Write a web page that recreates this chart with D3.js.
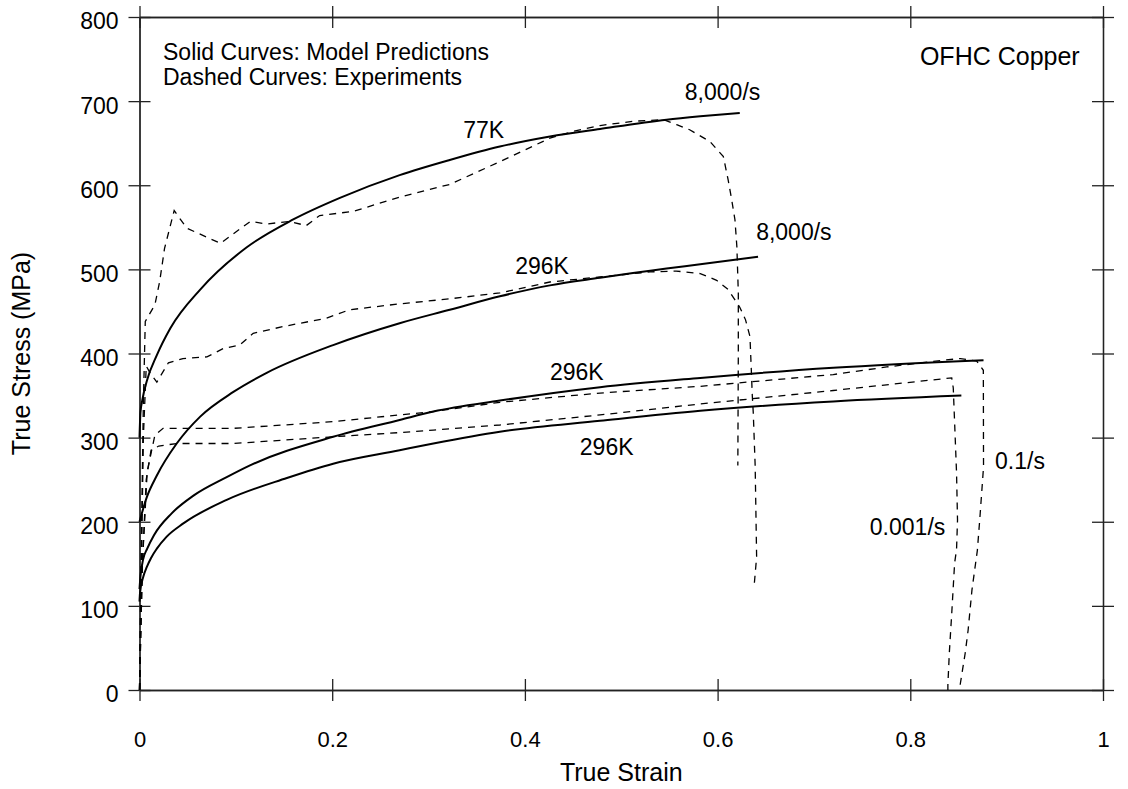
<!DOCTYPE html>
<html>
<head>
<meta charset="utf-8">
<script src="https://cdn.jsdelivr.net/npm/d3@7"></script>
<style>
  html, body { margin: 0; padding: 0; background: #fff; }
  svg { display: block; }
  text { font-family: "Liberation Sans", Arial, Helvetica, sans-serif; fill: #000; }
</style>
</head>
<body>
<svg id="chart" width="1128" height="789"></svg>
<script>
// ---- Data (strain, stress MPa) ----
const xTicks = [0, 0.2, 0.4, 0.6, 0.8, 1];
const xTickLabels = ["0", "0.2", "0.4", "0.6", "0.8", "1"];
const yTicks = [0, 100, 200, 300, 400, 500, 600, 700, 800];
const yTickLabels = ["0", "100", "200", "300", "400", "500", "600", "700", "800"];

// Solid curves: model predictions
const model77K_8000 = [[0,300],[0.001,330],[0.003,345],[0.0075,367],[0.018,398],[0.032,430],[0.063,476],[0.111,526],[0.159,559],[0.208,585],[0.27,612],[0.322,630],[0.374,646],[0.426,658],[0.478,667],[0.547,678],[0.582,682],[0.623,686]];
const model296K_8000 = [[0,200],[0.0075,229],[0.018,255],[0.0386,293],[0.063,325],[0.097,354],[0.132,377],[0.201,410],[0.27,436],[0.322,452],[0.374,468],[0.426,481],[0.478,490],[0.547,501],[0.582,506],[0.642,515]];
const model296K_01 = [[0,120],[0.001,135],[0.0037,155],[0.008,168],[0.015,184],[0.0334,210],[0.056,231],[0.0905,253],[0.1147,267],[0.201,301],[0.27,321],[0.305,331],[0.374,344],[0.478,360],[0.582,371],[0.72,383],[0.876,392]];
const model296K_0001 = [[0,105],[0.0005,115],[0.004,135],[0.0075,146],[0.012,157],[0.018,168],[0.028,182],[0.0455,198],[0.0905,226],[0.153,252],[0.201,269],[0.27,285],[0.305,293],[0.374,307],[0.478,320],[0.582,332],[0.72,343],[0.853,350]];

// Dashed curves: experiments
const exp77K_8000 = [[0,0],[0.002,180],[0.004,340],[0.006,438],[0.016,458],[0.021,486],[0.026,525],[0.036,570],[0.049,549],[0.084,531],[0.115,557],[0.132,554],[0.156,557],[0.173,552],[0.187,564],[0.222,569],[0.27,586],[0.322,601],[0.374,628],[0.426,656],[0.45,664],[0.478,671],[0.512,676],[0.544,678],[0.5575,672],[0.571,666],[0.592,652],[0.606,634],[0.611,606],[0.6146,583],[0.618,559],[0.62,527],[0.6215,472],[0.6215,400],[0.621,267]];
const exp296K_8000 = [[0,0],[0.002,150],[0.004,300],[0.007,385],[0.012,375],[0.018,366],[0.03,389],[0.045,394],[0.07,396],[0.087,406],[0.104,410],[0.118,424],[0.149,432],[0.194,442],[0.218,452],[0.27,459],[0.322,465],[0.374,472],[0.426,485],[0.478,491],[0.53,497],[0.557,498],[0.582,495],[0.599,487],[0.611,476],[0.623,455],[0.629,440],[0.6336,420],[0.635,380],[0.636,350],[0.637,330],[0.639,266],[0.6405,158],[0.638,125]];
const exp296K_01 = [[0,0],[0.003,150],[0.008,260],[0.016,303],[0.0245,311],[0.097,311],[0.201,319],[0.27,327],[0.305,331],[0.374,342],[0.478,353],[0.582,361],[0.72,375],[0.7755,384],[0.834,392],[0.852,394],[0.869,391],[0.8758,380],[0.876,265],[0.8723,206],[0.8696,166],[0.864,119],[0.86,71],[0.857,44],[0.852,8],[0.851,0]];
const exp296K_0001 = [[0,0],[0.003,150],[0.007,250],[0.012,285],[0.02,290],[0.0386,293],[0.097,293],[0.201,301],[0.27,306],[0.305,309],[0.374,315],[0.478,327],[0.582,340],[0.72,356],[0.843,371],[0.8446,359],[0.8464,306],[0.848,258],[0.849,202],[0.848,167],[0.846,151],[0.843,91],[0.8405,44],[0.839,6],[0.839,0]];

const modelSeries = [model77K_8000, model296K_8000, model296K_01, model296K_0001];
const expSeries = [exp77K_8000, exp296K_8000, exp296K_01, exp296K_0001];

// Annotations: [text, strain, stress, anchor, font size]
const annotations = [
  ["Solid Curves: Model Predictions", 0.0244, 749, "start", 23],
  ["Dashed Curves: Experiments", 0.0244, 719, "start", 23],
  ["OFHC Copper", 0.81, 743, "start", 25],
  ["8,000/s", 0.566, 701, "start", 23],
  ["77K", 0.336, 656, "start", 23],
  ["8,000/s", 0.64, 535, "start", 23],
  ["296K", 0.39, 495, "start", 23],
  ["296K", 0.426, 368, "start", 23],
  ["296K", 0.457, 279, "start", 23],
  ["0.1/s", 0.888, 263, "start", 23],
  ["0.001/s", 0.758, 184, "start", 23]
];

const xTitle = "True Strain";
const yTitle = "True Stress (MPa)";

// ---- Layout ----
const svg = d3.select("#chart");
const plotL = 139.5, plotR = 1103, plotT = 17, plotB = 690;
const x = d3.scaleLinear().domain([0, 1]).range([plotL, plotR]);
const y = d3.scaleLinear().domain([0, 800]).range([plotB, plotT]);
const tickLen = 11;
const axisColor = "#222";

function styleAxis(g) {
  g.selectAll("path.domain").attr("stroke", axisColor).attr("stroke-width", 1.3);
  g.selectAll(".tick line").attr("stroke", axisColor).attr("stroke-width", 1.3);
}

// bottom axis (outer ticks + labels)
const gB = svg.append("g").attr("transform", `translate(0,${plotB})`)
  .call(d3.axisBottom(x).tickValues(xTicks).tickSize(tickLen).tickSizeOuter(0)
    .tickPadding(30).tickFormat((d, i) => xTickLabels[i]));
gB.selectAll("text").style("font-size", "22px").style("font-family", "Liberation Sans, Arial, sans-serif").attr("fill", "#000");
styleAxis(gB);
const gB2 = svg.append("g").attr("transform", `translate(0,${plotB})`)
  .call(d3.axisBottom(x).tickValues(xTicks).tickSize(-tickLen).tickSizeOuter(0).tickFormat(""));
styleAxis(gB2);

// top axis (ticks both sides)
[tickLen, -tickLen].forEach(s => {
  const g = svg.append("g").attr("transform", `translate(0,${plotT})`)
    .call(d3.axisTop(x).tickValues(xTicks).tickSize(s).tickSizeOuter(0).tickFormat(""));
  styleAxis(g);
});

// left axis (outer ticks + labels)
const gL = svg.append("g").attr("transform", `translate(${plotL},0)`)
  .call(d3.axisLeft(y).tickValues(yTicks).tickSize(tickLen).tickSizeOuter(0)
    .tickPadding(10).tickFormat((d, i) => yTickLabels[i]));
gL.selectAll("text").style("font-size", "23px").style("font-family", "Liberation Sans, Arial, sans-serif")
  .attr("fill", "#000").attr("dy", "0.52em");
styleAxis(gL);
const gL2 = svg.append("g").attr("transform", `translate(${plotL},0)`)
  .call(d3.axisLeft(y).tickValues(yTicks).tickSize(-tickLen).tickSizeOuter(0).tickFormat(""));
styleAxis(gL2);

// right axis (ticks both sides)
[tickLen, -tickLen].forEach(s => {
  const g = svg.append("g").attr("transform", `translate(${plotR},0)`)
    .call(d3.axisRight(y).tickValues(yTicks).tickSize(s).tickSizeOuter(0).tickFormat(""));
  styleAxis(g);
});

// curves
const smoothLine = d3.line().x(d => x(d[0])).y(d => y(d[1])).curve(d3.curveMonotoneX);
const rawLine = d3.line().x(d => x(d[0])).y(d => y(d[1])).curve(d3.curveLinear);
svg.append("g").selectAll("path.model").data(modelSeries).join("path")
  .attr("class", "model").attr("d", smoothLine)
  .attr("fill", "none").attr("stroke", "#000").attr("stroke-width", 2)
  .attr("stroke-linejoin", "round");
svg.append("g").selectAll("path.exp").data(expSeries).join("path")
  .attr("class", "exp").attr("d", rawLine)
  .attr("fill", "none").attr("stroke", "#000").attr("stroke-width", 1.3)
  .attr("stroke-dasharray", "7,6");

// annotations
svg.append("g").selectAll("text.ann").data(annotations).join("text")
  .attr("class", "ann")
  .attr("x", d => x(d[1])).attr("y", d => y(d[2]))
  .attr("text-anchor", d => d[3])
  .style("font-size", d => d[4] + "px")
  .text(d => d[0]);

// axis titles
svg.append("text").attr("x", (plotL + plotR) / 2).attr("y", 781)
  .attr("text-anchor", "middle").style("font-size", "25px").text(xTitle);
svg.append("text").attr("transform", `translate(30,${(plotT + plotB) / 2}) rotate(-90)`)
  .attr("text-anchor", "middle").style("font-size", "25px").text(yTitle);
</script>
</body>
</html>
